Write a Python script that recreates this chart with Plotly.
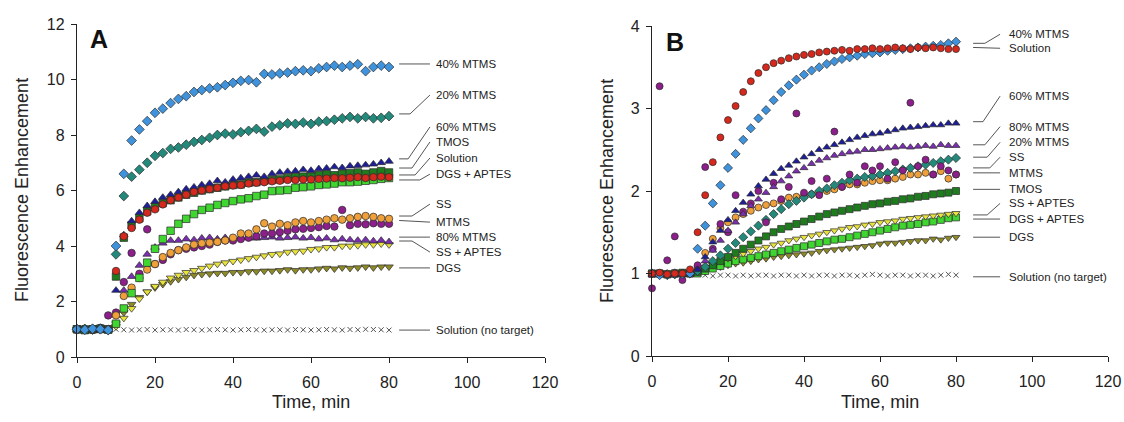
import plotly.graph_objects as go

# ---------------- data ----------------
T = [0, 2, 4, 6, 8, 10, 12, 14, 16, 18, 20, 22, 24, 26, 28, 30, 32, 34, 36, 38, 40,
     42, 44, 46, 48, 50, 52, 54, 56, 58, 60, 62, 64, 66, 68, 70, 72, 74, 76, 78, 80]

# Panel A
A_40MTMS = [1.0,0.98,1.02,1.0,0.97, 4.0, 6.6,7.8,8.2,8.5,8.8,8.95,9.15,9.3,9.4,9.55,9.62,9.68,9.72,9.8,9.88,9.95,9.98,9.9,10.2,10.18,10.22,10.25,10.3,10.33,10.3,10.4,10.45,10.5,10.45,10.5,10.55,10.3,10.45,10.5,10.45]
A_20MTMS = [1.0,1.01,0.99,1.02,0.98, 3.7, 5.8,6.5,6.75,7.0,7.25,7.35,7.5,7.55,7.65,7.75,7.82,7.9,8.0,8.05,8.02,8.1,8.15,8.22,8.12,8.3,8.35,8.42,8.4,8.45,8.4,8.48,8.5,8.55,8.6,8.65,8.6,8.65,8.6,8.62,8.68]
A_60MTMS = [0.99,1.0,1.02,0.98,1.0, 2.4, 4.4,4.9,5.2,5.45,5.6,5.75,5.85,5.95,6.05,6.12,6.2,6.25,6.35,6.3,6.4,6.45,6.5,6.55,6.5,6.6,6.65,6.68,6.7,6.75,6.72,6.78,6.8,6.85,6.82,6.88,6.9,6.92,6.95,7.0,7.05]
A_TMOS = [1.0,0.97,1.0,1.02,0.99, 2.9, 4.3,4.75,5.0,5.25,5.4,5.55,5.65,5.75,5.85,5.92,6.0,6.05,6.1,6.15,6.2,6.22,6.28,6.3,6.35,6.38,6.4,6.45,6.48,6.5,6.5,6.55,6.58,6.55,6.6,6.62,6.65,6.6,6.65,6.7,6.65]
A_SOL = [1.0,1.0,0.98,1.01,1.0, 3.1, 4.35,4.65,4.95,5.2,5.32,5.5,5.65,5.75,5.85,5.95,6.0,6.05,6.1,6.15,6.18,6.2,6.25,6.28,6.3,6.33,6.35,6.38,6.38,6.4,6.4,6.42,6.43,6.45,6.44,6.46,6.48,6.45,6.48,6.5,6.48]
A_DGSAP = [1.0,0.98,1.0,1.01,0.99, 1.2, 1.75,2.3,2.85,3.4,3.9,4.25,4.55,4.8,4.98,5.15,5.3,5.38,5.48,5.55,5.62,5.68,5.72,5.8,5.85,5.98,6.0,6.02,6.1,6.12,6.15,6.2,6.22,6.25,6.3,6.3,6.32,6.35,6.38,6.42,6.45]
A_SS = [0.98,1.0,1.02,0.99,1.0, 1.5, 2.2,2.5,2.85,3.15,3.35,3.6,3.75,3.85,3.95,4.05,4.1,4.12,4.15,4.2,4.3,4.45,4.45,4.6,4.82,4.7,4.8,4.75,4.85,4.9,4.85,4.9,4.95,5.0,4.95,5.0,5.05,5.08,5.05,5.0,4.98]
A_MTMS = [1.0,1.02,0.97,1.05,1.5, 1.6, 2.7,3.75,3.0,4.6,3.35,3.5,3.7,3.85,3.9,3.95,4.0,4.05,4.15,4.2,4.2,4.25,4.3,4.35,4.45,4.45,4.5,4.55,4.6,4.62,4.65,4.68,4.72,4.7,5.3,4.75,4.8,4.78,4.82,4.8,4.8]
A_80MTMS = [1.0,0.99,1.0,1.01,0.98, 1.5, 2.4,2.9,3.3,3.7,3.95,4.1,4.2,4.2,4.25,4.22,4.28,4.3,4.25,4.3,4.28,4.32,4.3,4.28,4.3,4.32,4.28,4.3,4.32,4.28,4.3,4.25,4.28,4.22,4.25,4.22,4.2,4.22,4.18,4.2,4.15]
A_SSAP = [1.0,1.0,0.99,1.0,0.98, 1.1, 1.4,1.75,2.1,2.35,2.55,2.7,2.85,2.95,3.05,3.12,3.2,3.28,3.35,3.4,3.45,3.5,3.55,3.6,3.65,3.7,3.72,3.78,3.8,3.82,3.88,3.9,3.95,3.95,4.0,4.0,4.02,4.05,4.05,4.08,4.05]
A_DGS = [0.99,1.0,1.01,0.98,1.0, 1.2, 1.6,1.9,2.15,2.35,2.5,2.62,2.72,2.8,2.88,2.95,2.98,3.0,3.02,3.02,3.05,3.05,3.08,3.08,3.1,3.1,3.12,3.15,3.12,3.15,3.15,3.18,3.2,3.18,3.22,3.2,3.22,3.25,3.22,3.25,3.25]
A_NT = [0.98,0.97,0.99,0.98,0.97, 1.0, 0.98,0.97,0.98,0.99,0.97,0.98,0.98,0.97,0.99,0.98,0.97,0.98,0.99,0.98,0.97,0.98,0.99,0.98,0.97,0.98,0.98,0.97,0.99,0.98,0.97,0.98,0.99,0.98,0.97,0.99,0.98,1.0,0.99,0.98,0.97]

# Panel B
B_40MTMS = [1.0,0.98,0.99,1.0,0.99, 1.0, 1.3,1.58,1.85,2.07,2.28,2.45,2.62,2.76,2.88,2.98,3.1,3.2,3.28,3.35,3.41,3.46,3.5,3.54,3.57,3.6,3.62,3.64,3.66,3.67,3.68,3.7,3.71,3.72,3.73,3.74,3.75,3.76,3.77,3.79,3.81]
B_SOL = [1.0,1.01,0.99,1.0,1.0, 1.05, 1.5,1.95,2.35,2.65,2.86,3.03,3.2,3.33,3.43,3.5,3.55,3.58,3.61,3.63,3.65,3.66,3.68,3.69,3.7,3.71,3.7,3.72,3.72,3.73,3.72,3.73,3.74,3.73,3.72,3.74,3.73,3.74,3.73,3.72,3.72]
B_60MTMS = [1.0,0.99,1.0,0.98,1.0, 1.02, 1.05,1.2,1.38,1.52,1.65,1.76,1.86,1.96,2.06,2.14,2.21,2.27,2.31,2.36,2.41,2.45,2.5,2.53,2.56,2.59,2.62,2.65,2.67,2.69,2.7,2.72,2.74,2.76,2.77,2.78,2.79,2.8,2.8,2.82,2.82]
B_80MTMS = [0.98,1.0,0.99,1.0,0.99, 1.0, 1.05,1.15,1.28,1.4,1.52,1.62,1.72,1.82,1.9,1.98,2.05,2.12,2.18,2.24,2.28,2.33,2.37,2.4,2.43,2.45,2.47,2.48,2.5,2.5,2.51,2.52,2.53,2.54,2.53,2.54,2.55,2.54,2.56,2.55,2.55]
B_20MTMS = [1.0,1.0,0.98,0.99,1.0, 1.0, 1.03,1.08,1.15,1.22,1.3,1.37,1.44,1.51,1.58,1.65,1.72,1.78,1.84,1.88,1.92,1.96,2.0,2.03,2.07,2.1,2.13,2.15,2.17,2.18,2.2,2.22,2.24,2.26,2.28,2.3,2.32,2.34,2.36,2.38,2.4]
B_SS = [1.0,0.99,1.0,1.01,1.0, 1.0, 1.08,1.25,1.42,1.55,1.62,1.68,1.72,1.76,1.8,1.83,1.85,1.88,1.92,1.93,1.95,1.96,1.98,2.0,2.02,2.05,2.08,2.08,2.1,2.12,2.13,2.13,2.15,2.17,2.2,2.2,2.22,2.2,2.24,2.15,2.2]
B_MTMS = [0.82,3.27,1.16,1.45,0.92, 1.0, 1.1,2.29,1.3,1.6,1.5,1.95,1.75,1.85,2.0,1.62,2.1,1.9,2.05,2.94,1.98,2.12,1.95,2.15,2.72,2.05,2.2,2.1,2.3,2.25,2.3,2.15,2.35,2.25,3.07,2.3,2.38,2.2,2.3,2.25,2.2]
B_TMOS = [1.0,1.0,0.99,1.0,1.01, 1.0, 1.02,1.06,1.1,1.15,1.2,1.25,1.3,1.35,1.4,1.45,1.5,1.54,1.57,1.6,1.63,1.66,1.69,1.72,1.74,1.76,1.78,1.8,1.82,1.84,1.85,1.87,1.88,1.9,1.91,1.93,1.94,1.96,1.97,1.98,2.0]
B_SSAP = [1.0,0.99,1.0,1.0,0.99, 1.0, 1.02,1.06,1.1,1.15,1.18,1.21,1.24,1.27,1.3,1.32,1.35,1.37,1.4,1.42,1.44,1.46,1.48,1.5,1.52,1.54,1.56,1.57,1.59,1.6,1.62,1.63,1.64,1.66,1.67,1.68,1.69,1.7,1.71,1.72,1.73]
B_DGSAP = [1.0,1.0,0.99,1.0,1.0, 1.0, 1.0,1.03,1.06,1.09,1.12,1.15,1.17,1.19,1.21,1.23,1.25,1.27,1.29,1.31,1.33,1.35,1.37,1.39,1.41,1.42,1.44,1.46,1.48,1.5,1.52,1.54,1.56,1.58,1.59,1.6,1.62,1.63,1.65,1.67,1.68]
B_DGS = [1.0,0.99,1.0,1.0,0.99, 1.0, 1.01,1.04,1.06,1.08,1.1,1.12,1.13,1.15,1.17,1.18,1.2,1.21,1.22,1.23,1.24,1.25,1.27,1.28,1.29,1.3,1.31,1.32,1.33,1.34,1.36,1.37,1.37,1.38,1.39,1.4,1.4,1.42,1.41,1.43,1.44]
B_NT = [0.98,0.99,0.98,0.99,0.98, 1.0, 0.99,0.98,0.97,0.98,0.98,0.97,0.98,0.97,0.98,0.98,0.97,0.98,0.98,0.97,0.98,0.97,0.98,0.98,0.97,0.98,0.98,0.97,0.98,0.99,0.98,0.97,0.98,0.98,0.97,0.98,0.98,0.97,0.98,0.99,0.98]

X_TICKS = [0, 20, 40, 60, 80, 100, 120]
A_Y_TICKS = [0, 2, 4, 6, 8, 10, 12]
B_Y_TICKS = [0, 1, 2, 3, 4]

# ---------------- styles ----------------
STYLE = {
    "40% MTMS": ("diamond", "#3f93dd"),
    "20% MTMS": ("diamond", "#23897a"),
    "60% MTMS": ("triangle-up", "#1e1e9a"),
    "TMOS": ("square", "#1d7d1d"),
    "Solution": ("circle", "#d6281c"),
    "DGS + APTES": ("square", "#3fd62f"),
    "SS": ("circle", "#f0a03a"),
    "MTMS": ("circle", "#8c1f8c"),
    "80% MTMS": ("triangle-up", "#7b2fb0"),
    "SS + APTES": ("triangle-down", "#e8e23c"),
    "DGS": ("triangle-down", "#8e8a26"),
    "Solution (no target)": ("x-thin", "#666666"),
}

A_SERIES = [("Solution (no target)", A_NT), ("DGS", A_DGS), ("SS + APTES", A_SSAP),
            ("80% MTMS", A_80MTMS), ("MTMS", A_MTMS), ("SS", A_SS), ("DGS + APTES", A_DGSAP),
            ("TMOS", A_TMOS), ("60% MTMS", A_60MTMS), ("Solution", A_SOL),
            ("20% MTMS", A_20MTMS), ("40% MTMS", A_40MTMS)]
B_SERIES = [("Solution (no target)", B_NT), ("DGS", B_DGS), ("DGS + APTES", B_DGSAP),
            ("SS + APTES", B_SSAP), ("TMOS", B_TMOS), ("SS", B_SS), ("20% MTMS", B_20MTMS),
            ("MTMS", B_MTMS), ("80% MTMS", B_80MTMS), ("60% MTMS", B_60MTMS),
            ("40% MTMS", B_40MTMS), ("Solution", B_SOL)]

# label layout: (text, text_y, line_start_y, elbow_x)
A_LABELS = [("40% MTMS", 10.56, 10.56, None), ("20% MTMS", 9.44, 8.76, 85.4),
            ("60% MTMS", 8.29, 7.14, 84.9), ("TMOS", 7.75, 6.81, 85.9),
            ("Solution", 7.17, 6.56, 86.7), ("DGS + APTES", 6.59, 6.38, 87.9),
            ("SS", 5.51, 5.08, 85.9), ("MTMS", 4.86, 4.92, None),
            ("80% MTMS", 4.32, 4.32, None), ("SS + APTES", 3.78, 4.18, 85.9),
            ("DGS", 3.21, 3.21, None), ("Solution (no target)", 0.97, 0.97, None)]
A_LINE_X = (82.6, 90.5, 91.5)
B_LABELS = [("40% MTMS", 3.90, 3.79, 87.6), ("Solution", 3.73, 3.74, None),
            ("60% MTMS", 3.15, 2.84, 87.1), ("80% MTMS", 2.78, 2.56, 87.6),
            ("20% MTMS", 2.59, 2.41, 88.2), ("SS", 2.41, 2.28, 88.9),
            ("MTMS", 2.22, 2.22, None), ("TMOS", 2.02, 2.02, None),
            ("SS + APTES", 1.85, 1.71, 88.2), ("DGS + APTES", 1.66, 1.66, None),
            ("DGS", 1.44, 1.44, None), ("Solution (no target)", 0.96, 0.96, None)]
B_LINE_X = (84.5, 91.6, 93.4)

FONT = "Liberation Sans, Arial, sans-serif"
W, H = 1124, 422


def px(X):
    return X / W


def py(Y):
    return 1 - Y / H


fig = go.Figure()


def add_series(series, xa, ya, size):
    for name, vals in series:
        sym, col = STYLE[name]
        if sym == "x-thin":
            marker = dict(symbol=sym, size=5, color=col, line=dict(color="#555", width=1))
        else:
            marker = dict(symbol=sym, size=size, color=col, line=dict(color="#2a2a2a", width=0.7))
        fig.add_trace(go.Scatter(x=T, y=vals, mode="markers", name=name, marker=marker,
                                 xaxis=xa, yaxis=ya, showlegend=False, cliponaxis=False))


add_series(A_SERIES, "x", "y", 7.5)
add_series(B_SERIES, "x2", "y2", 7)

shapes = []
annotations = []


def add_labels(labels, linex, xr, yr):
    x0, x1, xt = linex
    for text, ty, sy, ex in labels:
        if ex is None:
            path = f"M {x0},{sy} L {x1},{ty}"
        else:
            path = f"M {x0},{sy} L {ex},{sy} L {x1},{ty}"
        shapes.append(dict(type="path", path=path, xref=xr, yref=yr,
                           line=dict(color="#555555", width=1)))
        annotations.append(dict(text=text, x=xt, y=ty, xref=xr, yref=yr, xanchor="left",
                                yanchor="middle", showarrow=False,
                                font=dict(family=FONT, size=11.5, color="#222")))


add_labels(A_LABELS, A_LINE_X, "x", "y")
add_labels(B_LABELS, B_LINE_X, "x2", "y2")


def note(text, X, Y, size, angle=0, color="#222"):
    return dict(text=text, x=px(X), y=py(Y), xref="paper", yref="paper", xanchor="center",
                yanchor="middle", textangle=angle, showarrow=False,
                font=dict(family=FONT, size=size, color=color))


annotations += [
    note("Fluorescence Enhancement", 22, 190, 18, -90),
    note("Fluorescence Enhancement", 607, 191, 18, -90),
    note("Time, min", 311, 402, 18),
    note("Time, min", 880, 402, 18),
    note("<b>A</b>", 99, 39, 25, color="#111"),
    note("<b>B</b>", 675, 42, 25, color="#111"),
]

axis_common = dict(showline=True, linecolor="#222", linewidth=1.3, ticks="outside", ticklen=5,
                   tickcolor="#222", tickwidth=1.2, showgrid=False, zeroline=False,
                   automargin=False,
                   tickfont=dict(family=FONT, size=16, color="#222"))

fig.update_layout(
    template="none",
    width=W, height=H, margin=dict(l=0, r=0, t=0, b=0, pad=0),
    paper_bgcolor="white", plot_bgcolor="white",
    shapes=shapes, annotations=annotations,
    xaxis=dict(domain=[px(77), px(545)], range=[0, 120], tickvals=X_TICKS, anchor="y",
               ticklabelstandoff=6, **axis_common),
    yaxis=dict(domain=[py(357), py(24)], range=[0, 12], tickvals=A_Y_TICKS, anchor="x",
               ticklabelstandoff=3, **axis_common),
    xaxis2=dict(domain=[px(652), px(1108)], range=[0, 120], tickvals=X_TICKS, anchor="y2",
                ticklabelstandoff=6, **axis_common),
    yaxis2=dict(domain=[py(356), py(26)], range=[0, 4], tickvals=B_Y_TICKS, anchor="x2",
                ticklabelstandoff=3, **axis_common),
)

fig.write_html("out.html", config={"displayModeBar": False},
               post_script="document.body.style.margin='0';document.body.style.overflow='hidden';")
